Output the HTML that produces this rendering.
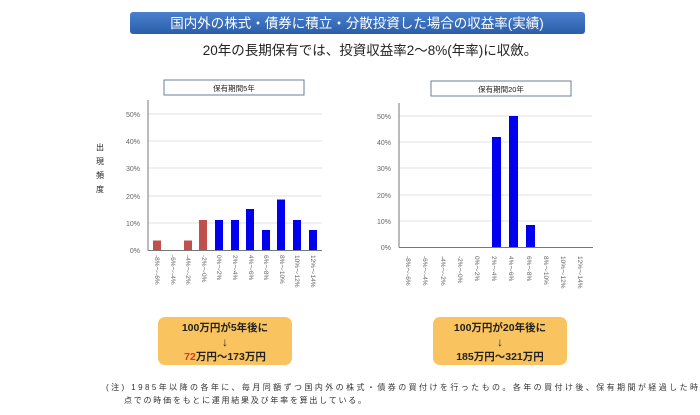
<!DOCTYPE html>
<html><head><meta charset="utf-8"><style>
body{margin:0;background:#fff;}
svg{display:block;font-family:"Liberation Sans","Noto Sans CJK JP",sans-serif;}
</style></head><body>
<svg width="700" height="415" viewBox="0 0 700 415" xmlns="http://www.w3.org/2000/svg">
<defs><linearGradient id="g" x1="0" y1="0" x2="0" y2="1"><stop offset="0" stop-color="#4a80cf"/><stop offset="1" stop-color="#2b5ea8"/></linearGradient></defs>
<rect width="700" height="415" fill="#fff"/>
<rect x="130" y="12" width="455" height="22" rx="3" fill="url(#g)"/>
<text x="357" y="28" font-size="13.5" fill="#fff" text-anchor="middle">国内外の株式・債券に積立・分散投資した場合の収益率(実績)</text>
<text x="370" y="55" font-size="13.5" fill="#222" text-anchor="middle">20年の長期保有では、投資収益率2～8%(年率)に収斂。</text>

<!-- left chart -->
<rect x="164" y="80" width="140" height="15" fill="#fff" stroke="#6a7f99" stroke-width="1"/>
<text x="234" y="91" font-size="7.5" text-anchor="middle" fill="#222">保有期間5年</text>
<g stroke="#e2e2e2" stroke-width="1">
<line x1="148" x2="322" y1="223" y2="223"/><line x1="148" x2="322" y1="196" y2="196"/><line x1="148" x2="322" y1="168" y2="168"/><line x1="148" x2="322" y1="141" y2="141"/><line x1="148" x2="322" y1="114" y2="114"/>
</g>
<g font-size="7" fill="#666" text-anchor="end">
<text x="140" y="253">0%</text><text x="140" y="226">10%</text><text x="140" y="199">20%</text><text x="140" y="171">30%</text><text x="140" y="144">40%</text><text x="140" y="117">50%</text>
</g>
<g font-size="8" fill="#222" text-anchor="middle"><text x="100" y="150">出</text><text x="100" y="164">現</text><text x="100" y="178">頻</text><text x="100" y="192">度</text></g>
<g fill="#c0504d"><rect x="153" y="240.5" width="8" height="9.5"/><rect x="184" y="240.5" width="8" height="9.5"/><rect x="199" y="220" width="8" height="30"/></g>
<g fill="#0000ee"><rect x="215" y="220" width="8" height="30"/><rect x="231" y="220" width="8" height="30"/><rect x="246" y="209" width="8" height="41"/><rect x="262" y="230" width="8" height="20"/><rect x="277" y="199.5" width="8" height="50.5"/><rect x="293" y="220" width="8" height="30"/><rect x="309" y="230" width="8" height="20"/></g>
<line x1="148" y1="100" x2="148" y2="250.5" stroke="#777" stroke-width="1"/>
<line x1="148" y1="250.5" x2="322" y2="250.5" stroke="#777" stroke-width="1"/>
<g font-size="6.5" fill="#666">
<text transform="translate(155,255) rotate(90)">-8%～-6%</text>
<text transform="translate(171,255) rotate(90)">-6%～-4%</text>
<text transform="translate(186,255) rotate(90)">-4%～-2%</text>
<text transform="translate(202,255) rotate(90)">-2%～0%</text>
<text transform="translate(217,255) rotate(90)">0%～2%</text>
<text transform="translate(233,255) rotate(90)">2%～4%</text>
<text transform="translate(249,255) rotate(90)">4%～6%</text>
<text transform="translate(264,255) rotate(90)">6%～8%</text>
<text transform="translate(280,255) rotate(90)">8%～10%</text>
<text transform="translate(295,255) rotate(90)">10%～12%</text>
<text transform="translate(311,255) rotate(90)">12%～14%</text>
</g>

<!-- right chart -->
<rect x="431" y="81" width="140" height="15" fill="#fff" stroke="#6a7f99" stroke-width="1"/>
<text x="501" y="92" font-size="7.5" text-anchor="middle" fill="#222">保有期間20年</text>
<g stroke="#e2e2e2" stroke-width="1">
<line x1="399" x2="592" y1="221" y2="221"/><line x1="399" x2="592" y1="195" y2="195"/><line x1="399" x2="592" y1="168" y2="168"/><line x1="399" x2="592" y1="142" y2="142"/><line x1="399" x2="592" y1="116" y2="116"/>
</g>
<g font-size="7" fill="#666" text-anchor="end">
<text x="391" y="250">0%</text><text x="391" y="224">10%</text><text x="391" y="198">20%</text><text x="391" y="171">30%</text><text x="391" y="145">40%</text><text x="391" y="119">50%</text>
</g>
<g fill="#0000ee"><rect x="492" y="137" width="9" height="110"/><rect x="509" y="116" width="9" height="131"/><rect x="526" y="225" width="9" height="22"/></g>
<line x1="399" y1="103" x2="399" y2="247.5" stroke="#777" stroke-width="1"/>
<line x1="399" y1="247.5" x2="593" y2="247.5" stroke="#777" stroke-width="1"/>
<g font-size="6.5" fill="#666">
<text transform="translate(406,256) rotate(90)">-8%～-6%</text>
<text transform="translate(423,256) rotate(90)">-6%～-4%</text>
<text transform="translate(441,256) rotate(90)">-4%～-2%</text>
<text transform="translate(458,256) rotate(90)">-2%～0%</text>
<text transform="translate(475,256) rotate(90)">0%～2%</text>
<text transform="translate(492,256) rotate(90)">2%～4%</text>
<text transform="translate(509,256) rotate(90)">4%～6%</text>
<text transform="translate(527,256) rotate(90)">6%～8%</text>
<text transform="translate(544,256) rotate(90)">8%～10%</text>
<text transform="translate(561,256) rotate(90)">10%～12%</text>
<text transform="translate(578,256) rotate(90)">12%～14%</text>
</g>

<!-- yellow boxes -->
<rect x="158" y="317" width="134" height="48" rx="7" fill="#f9c460"/>
<g font-size="10.5" font-weight="bold" fill="#222" text-anchor="middle">
<text x="225" y="331">100万円が5年後に</text><text x="225" y="346" font-size="12">↓</text>
<text x="225" y="360"><tspan fill="#d83a1a">72</tspan>万円～173万円</text>
</g>
<rect x="433" y="317" width="134" height="48" rx="7" fill="#f9c460"/>
<g font-size="10.5" font-weight="bold" fill="#222" text-anchor="middle">
<text x="500" y="331">100万円が20年後に</text><text x="500" y="346" font-size="12">↓</text>
<text x="500" y="360">185万円～321万円</text>
</g>

<g font-size="8" fill="#333">
<text x="106" y="390" textLength="592" lengthAdjust="spacing">(注) 1985年以降の各年に、毎月同額ずつ国内外の株式・債券の買付けを行ったもの。各年の買付け後、保有期間が経過した時</text>
<text x="124" y="403" textLength="242" lengthAdjust="spacing">点での時価をもとに運用結果及び年率を算出している。</text>
</g>
</svg>
</body></html>
